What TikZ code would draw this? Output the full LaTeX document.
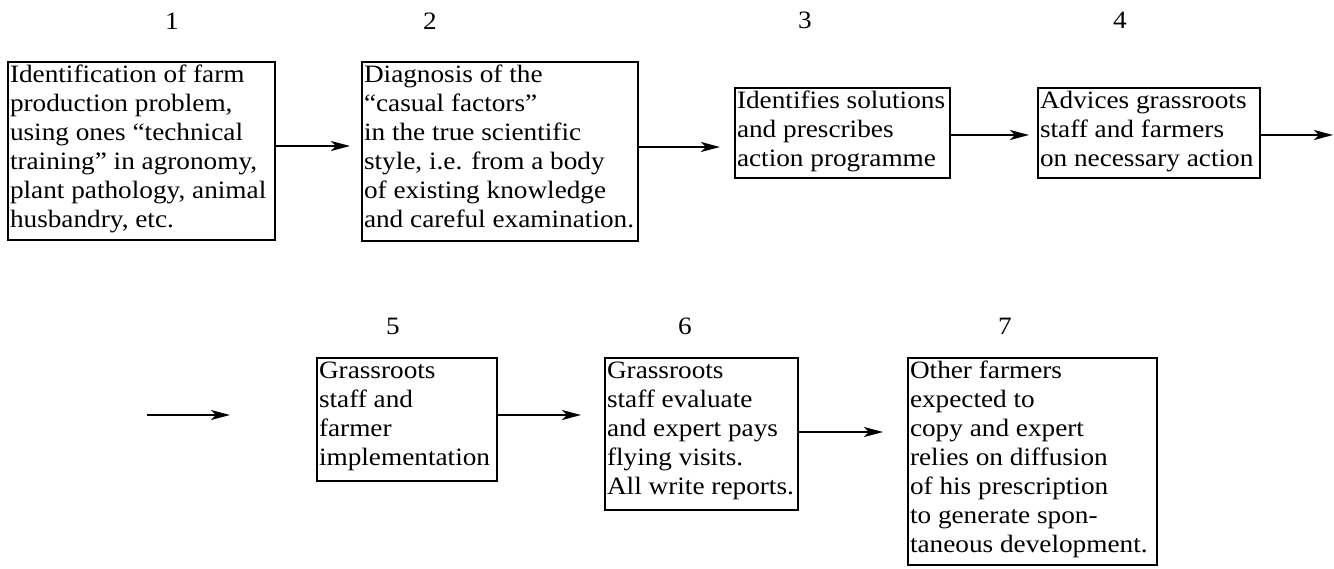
\documentclass[tikz,border=0pt]{standalone}
\usepackage{fontspec}
\setmainfont{Liberation Serif}[FakeStretch=1.09]
\usetikzlibrary{arrows.meta,calc}
\newcommand\bxt[3]{\parbox[t][#2][t]{#1}{\fontsize{25}{29}\selectfont\raggedright\strut #3}}
\begin{document}
\begin{tikzpicture}[x=1pt,y=-1pt,
  box/.style={draw, line width=1.4pt, inner xsep=2pt, inner ysep=0pt, outer sep=0pt,
    anchor=north west, font=\fontsize{25}{29}\selectfont},
  arr/.style={line width=1.6pt, -{Stealth[length=19pt,width=10pt,inset=5pt]}},
  num/.style={font=\fontsize{25}{29}\selectfont, inner sep=0pt}]
\useasboundingbox (0,0) rectangle (1334,568);
% numbers
\node[num] (n1) at (172,21) {1};
\node[num] (n2) at (430,21) {2};
\node[num] (n3) at (805,20) {3};
\node[num] (n4) at (1120,20) {4};
\node[num] (n5) at (393,326) {5};
\node[num] (n6) at (685,326) {6};
\node[num] (n7) at (1005,326) {7};
% boxes
\node[box] (b1) at (8,62) {\bxt{263pt}{178pt}{Identification of farm\\production problem,\\using ones “technical\\training” in agronomy,\\plant pathology, animal\\husbandry, etc.}};
\node[box] (b2) at (362,62) {\bxt{272pt}{179pt}{Diagnosis of the\\“casual factors”\\in the true scientific\\style, i.e. from a body\\of existing knowledge\\and careful examination.}};
\node[box] (b3) at (735,88) {\bxt{211pt}{90pt}{Identifies solutions\\and prescribes\\action programme}};
\node[box] (b4) at (1038,88) {\bxt{218pt}{90pt}{Advices grassroots\\staff and farmers\\on necessary action}};
\node[box] (b5) at (317,358) {\bxt{176pt}{123pt}{Grassroots\\staff and\\farmer\\implementation}};
\node[box] (b6) at (605,358) {\bxt{189pt}{152pt}{Grassroots\\staff evaluate\\and expert pays\\flying visits.\\All write reports.}};
\node[box] (b7) at (908,358) {\bxt{245pt}{207pt}{Other farmers\\expected to\\copy and expert\\relies on diffusion\\of his prescription\\to generate spon-\\taneous development.}};
% free ends
\coordinate (e4) at (1333,135);
\coordinate (s5) at (147,415);
\coordinate (e5) at (230,415);
% connectors
\draw[arr] ($(b1.north east)+(0,84)$) -- ($(b2.north west)+(-12,84)$);
\draw[arr] ($(b2.north east)+(0,85)$) -- ($(b3.north west)+(-15,59)$);
\draw[arr] ($(b3.north east)+(0,47)$) -- ($(b4.north west)+(-9,47)$);
\draw[arr] (b4.east |- e4) -- (e4);
\draw[arr] (s5) -- (e5);
\draw[arr] ($(b5.north east)+(0,57)$) -- ($(b6.north west)+(-24,57)$);
\draw[arr] ($(b6.north east)+(0,74)$) -- ($(b7.north west)+(-25,74)$);
\end{tikzpicture}
\end{document}
